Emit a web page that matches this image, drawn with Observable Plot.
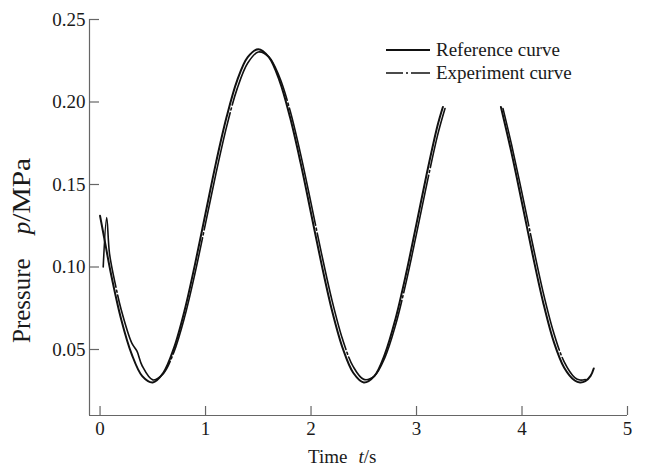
<!DOCTYPE html>
<html>
<head>
<meta charset="utf-8">
<script src="https://cdn.jsdelivr.net/npm/d3@7"></script>
<script src="https://cdn.jsdelivr.net/npm/@observablehq/plot@0.6"></script>
<style>
  html, body { margin: 0; padding: 0; background: #fff; }
  #chart { width: 645px; height: 466px; }
</style>
</head>
<body>
<div id="chart"></div>
<script>
// Tick values
const xTicks = [0, 1, 2, 3, 4, 5];
const yTicks = [0.05, 0.10, 0.15, 0.20, 0.25];

// Reference curve (solid); NaN marks the hidden part
const refT = [0, 0.05, 0.1, 0.2, 0.3, 0.4, 0.5, 0.6, 0.7, 0.8, 0.9, 1.0, 1.1, 1.2, 1.3, 1.4, 1.5,
  1.6, 1.7, 1.8, 1.9, 2.0, 2.1, 2.2, 2.3, 2.4, 2.5, 2.6, 2.7, 2.8, 2.9, 3.0, 3.1, 3.2, 3.25,
  3.5, 3.8, 3.9, 4.0, 4.1, 4.2, 4.3, 4.4, 4.5, 4.55, 4.6, 4.65, 4.68];
const refP = [0.131, 0.114, 0.097, 0.0684, 0.0472, 0.0339, 0.0300, 0.0359, 0.0508, 0.0733, 0.1016, 0.1326, 0.1634, 0.191, 0.2131, 0.2272, 0.232,
  0.2272, 0.2131, 0.191, 0.1634, 0.1326, 0.1016, 0.0733, 0.0508, 0.0359, 0.0300, 0.0339, 0.0472, 0.0684, 0.0956, 0.1263, 0.1574, 0.1859, 0.197,
  NaN, 0.197, 0.1693, 0.1388, 0.1077, 0.0787, 0.0549, 0.0390, 0.0312, 0.0300, 0.0308, 0.0340, 0.0385];

// Experiment curve (dash-dot)
const expT = [0.03, 0.063, 0.09, 0.15, 0.2, 0.3, 0.35, 0.4, 0.5, 0.6, 0.7, 0.8, 0.9, 1.0, 1.1, 1.2, 1.3, 1.4, 1.5,
  1.6, 1.7, 1.8, 1.9, 2.0, 2.1, 2.2, 2.3, 2.4, 2.5, 2.6, 2.7, 2.8, 2.9, 3.0, 3.1, 3.2, 3.27,
  3.5, 3.82, 3.9, 4.0, 4.1, 4.2, 4.3, 4.4, 4.5, 4.55, 4.6];
const expP = [0.100, 0.130, 0.108, 0.088, 0.0742, 0.054, 0.049, 0.040, 0.0316, 0.0354, 0.0484, 0.0693, 0.0962, 0.1264, 0.157, 0.1851, 0.2081, 0.2236, 0.2303,
  0.2274, 0.2153, 0.1951, 0.1687, 0.1387, 0.108, 0.0795, 0.056, 0.0396, 0.0319, 0.0339, 0.0451, 0.0645, 0.0904, 0.1202, 0.151, 0.1799, 0.196,
  NaN, 0.196, 0.1744, 0.1448, 0.1141, 0.0848, 0.0603, 0.0425, 0.0330, 0.0315, 0.0318];

const ref = refT.map((t, i) => ({t, p: refP[i]}));
const exp = expT.map((t, i) => ({t, p: expP[i]}));

const axisColor = "#666";
const font = "'Liberation Serif', 'Times New Roman', serif";

const chart = Plot.plot({
  width: 645,
  height: 466,
  marginLeft: 89,
  marginRight: 18,
  marginTop: 19,
  marginBottom: 51,
  style: {fontFamily: font, fontSize: "19px", background: "#fff", color: "#1a1a1a"},
  x: {domain: [-0.1, 5]},
  y: {domain: [0.01, 0.25]},
  marks: [
    Plot.ruleX([-0.1], {stroke: axisColor, strokeWidth: 1.2}),
    Plot.ruleY([0.01], {stroke: axisColor, strokeWidth: 1.2}),
    Plot.axisX({ticks: xTicks, tickSize: -9, fill: "none", stroke: axisColor, strokeWidth: 1.2, label: null}),
    Plot.axisX({ticks: xTicks, tickSize: 0, tickPadding: 6, tickFormat: d => String(d), label: null, fontSize: 19}),
    Plot.axisY({ticks: yTicks, tickSize: -10, fill: "none", stroke: axisColor, strokeWidth: 1.2, label: null}),
    Plot.axisY({ticks: yTicks, tickSize: 0, tickPadding: 4, tickFormat: d => d.toFixed(2), label: null, fontSize: 19}),
    Plot.line(ref, {x: "t", y: "p", stroke: "#111", strokeWidth: 2, curve: "catmull-rom"}),
    Plot.line(exp, {x: "t", y: "p", stroke: "#111", strokeWidth: 1.6, strokeDasharray: "120,3,2,3", curve: "catmull-rom"})
  ]
});

const svg = d3.select(chart);

// Axis titles
const xt = svg.append("text")
  .attr("x", 308).attr("y", 463).attr("text-anchor", "start")
  .attr("font-family", font).attr("font-size", 19).attr("fill", "#1a1a1a");
xt.append("tspan").text("Time");
xt.append("tspan").attr("dx", 11).attr("font-style", "italic").text("t");
xt.append("tspan").text("/s");

const yt = svg.append("text")
  .attr("transform", "translate(30,343) rotate(-90)").attr("text-anchor", "start")
  .attr("font-family", font).attr("font-size", 25).attr("fill", "#1a1a1a");
yt.append("tspan").text("Pressure");
yt.append("tspan").attr("dx", 24).attr("font-style", "italic").text("p");
yt.append("tspan").attr("textLength", 64).attr("lengthAdjust", "spacingAndGlyphs").text("/MPa");

// Legend
const lg = svg.append("g").attr("font-family", font).attr("font-size", 19)
  .attr("fill", "#1a1a1a").attr("text-anchor", "start");
lg.append("line").attr("x1", 386).attr("x2", 430).attr("y1", 50).attr("y2", 50)
  .attr("stroke", "#111").attr("stroke-width", 2);
lg.append("text").attr("x", 436).attr("y", 56).text("Reference curve");
lg.append("line").attr("x1", 386).attr("x2", 430).attr("y1", 73).attr("y2", 73)
  .attr("stroke", "#111").attr("stroke-width", 1.6).attr("stroke-dasharray", "17,3,2,3,19");
lg.append("text").attr("x", 436).attr("y", 79).text("Experiment curve");

document.getElementById("chart").appendChild(chart);
</script>
</body>
</html>
